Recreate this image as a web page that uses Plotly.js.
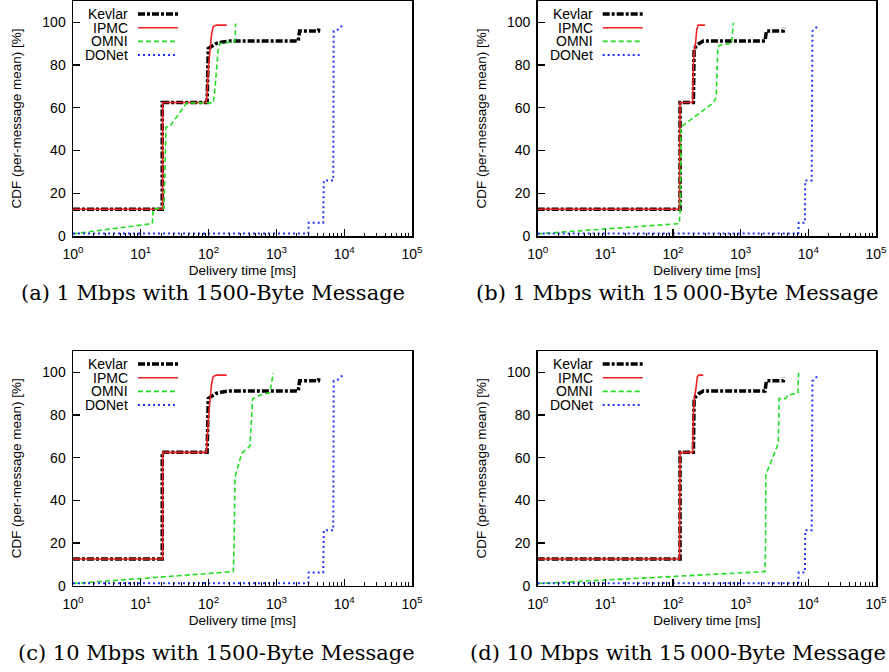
<!DOCTYPE html>
<html>
<head>
<meta charset="utf-8">
<script src="https://cdn.plot.ly/plotly-3.0.1.min.js"></script>
<style>html,body{margin:0;padding:0;background:#fff;}#chart{width:889px;height:672px;}</style>
</head>
<body>
<div id="chart"></div>
<script>
// ---------------- data ----------------
const seriesNames = ['Kevlar', 'IPMC', 'OMNI', 'DONet'];
const captions = [
  '(a) 1 Mbps with 1500-Byte Message',
  '(b) 1 Mbps with 15\u2009000-Byte Message',
  '(c) 10 Mbps with 1500-Byte Message',
  '(d) 10 Mbps with 15\u2009000-Byte Message'
];
const xTickVals = [1, 10, 100, 1000, 10000, 100000];
const xTickText = ['10<sup>0</sup>', '10<sup>1</sup>', '10<sup>2</sup>', '10<sup>3</sup>', '10<sup>4</sup>', '10<sup>5</sup>'];
const yTickVals = [0, 20, 40, 60, 80, 100];

// (a) 1 Mbps, 1500 B
const aKevlarX = [1, 20.7, 20.7, 95, 99, 110, 131, 160, 207, 2100, 2150, 2200, 4170, 4250];
const aKevlarY = [12.5, 12.5, 62.5, 62.5, 87.8, 88.8, 90.2, 90.8, 91.3, 91.3, 94, 96, 96, 97.5];
const aIpmcX = [1, 21, 21, 93, 100, 105, 111, 117, 131, 185];
const aIpmcY = [12.5, 12.5, 62.5, 62.5, 80, 87.8, 94.8, 98, 98.7, 98.7];
const aOmniX = [1, 14.8, 15.3, 22, 23.5, 26.4, 47.5, 117, 125, 131, 139, 147, 245, 250];
const aOmniY = [1, 5.8, 12.8, 13, 51, 51, 62.3, 62.3, 70, 79, 87.8, 90.1, 91, 99.5];
const aDonetX = [1, 2960, 3000, 4900, 5000, 6900, 7000, 8000, 9700];
const aDonetY = [1.2, 1.2, 6.2, 6.2, 26, 26, 96, 96.5, 99];

// (b) 1 Mbps, 15000 B
const bKevlarX = [1, 127, 127, 200, 205, 215, 240, 280, 2290, 2350, 2400, 4270, 4350];
const bKevlarY = [12.5, 12.5, 62.5, 62.5, 87.5, 88.5, 90, 91.3, 91.3, 94, 96, 96, 97.5];
const bIpmcX = [1, 125, 127, 195, 200, 207, 215, 224, 235, 298];
const bIpmcY = [12.5, 12.5, 62.5, 62.5, 80, 87.5, 90, 96.4, 98.7, 98.7];
const bOmniX = [1, 124, 128, 131, 394, 435, 460, 500, 735, 780];
const bOmniY = [1, 5.8, 12.8, 51, 62.3, 65, 88.6, 89.4, 90.2, 99.8];
const bDonetX = [1, 7100, 7200, 8900, 9000, 11200, 11500, 12700, 14000];
const bDonetY = [1.2, 1.2, 6.2, 6.2, 26, 26, 96, 97, 99];

// (c) 10 Mbps, 1500 B
const cKevlarX = [1, 20.7, 20.7, 95, 99, 110, 131, 160, 207, 2100, 2150, 2200, 4170, 4250];
const cKevlarY = [12.5, 12.5, 62.5, 62.5, 87.8, 88.8, 90.2, 90.8, 91.3, 91.3, 94, 96, 96, 97.5];
const cIpmcX = [1, 21, 21, 93, 100, 105, 111, 117, 131, 185];
const cIpmcY = [12.5, 12.5, 62.5, 62.5, 80, 87.8, 94.8, 98, 98.7, 98.7];
const cOmniX = [1, 232, 238, 245, 308, 408, 446, 575, 804, 900];
const cOmniY = [1, 6.6, 20, 51, 62, 65.5, 87.5, 89.4, 90.5, 99.8];
const cDonetX = [1, 2960, 3000, 4900, 5000, 6900, 7000, 8000, 9700];
const cDonetY = [1.2, 1.2, 6.2, 6.2, 26, 26, 96, 96.5, 99];

// (d) 10 Mbps, 15000 B
const dKevlarX = [1, 127, 127, 200, 205, 215, 240, 280, 2290, 2350, 2400, 4270, 4350];
const dKevlarY = [12.5, 12.5, 62.5, 62.5, 87.5, 88.5, 90, 91.3, 91.3, 94, 96, 96, 97.5];
const dIpmcX = [1, 125, 127, 195, 200, 207, 215, 229, 240, 280];
const dIpmcY = [12.5, 12.5, 62.5, 62.5, 80, 88.6, 91, 98, 98.7, 98.7];
const dOmniX = [1, 2290, 2330, 2350, 3600, 3700, 4600, 5000, 7000, 7150];
const dOmniY = [1, 6.6, 20, 51.9, 66.7, 87.7, 87.7, 89.4, 90.2, 99.8];
const dDonetX = [1, 7100, 7200, 8900, 9000, 11200, 11500, 12700, 14000];
const dDonetY = [1.2, 1.2, 6.2, 6.2, 26, 26, 96, 97, 99];

const panels = [
  [[aKevlarX, aKevlarY], [aIpmcX, aIpmcY], [aOmniX, aOmniY], [aDonetX, aDonetY]],
  [[bKevlarX, bKevlarY], [bIpmcX, bIpmcY], [bOmniX, bOmniY], [bDonetX, bDonetY]],
  [[cKevlarX, cKevlarY], [cIpmcX, cIpmcY], [cOmniX, cOmniY], [cDonetX, cDonetY]],
  [[dKevlarX, dKevlarY], [dIpmcX, dIpmcY], [dOmniX, dOmniY], [dDonetX, dDonetY]]
];

// ---------------- styles / layout ----------------
const W = 889, H = 672;
const lineStyles = [
  {color: '#000000', width: 3.5, dash: '7px,2px,3px,2px'},
  {color: '#ee2222', width: 1.6, dash: 'solid'},
  {color: '#22dd22', width: 1.6, dash: '5px,3px'},
  {color: '#2233ff', width: 2, dash: '2px,3px'}
];
// plot-area boxes in pixels [left, top, right, bottom]
const boxes = [
  [73, 1, 412, 236],
  [537.7, 1, 876, 236],
  [73, 351, 412, 585.7],
  [537.7, 351, 876, 585.7]
];
const captionCenters = [[213, 293], [677, 293], [216, 653], [678, 653]];

const px = x => x / W;
const py = y => 1 - y / H;
const sansFont = 'Liberation Sans, Arial, sans-serif';

const traces = [];
const layout = {
  width: W, height: H,
  margin: {l: 0, r: 0, t: 0, b: 0},
  paper_bgcolor: '#ffffff', plot_bgcolor: '#ffffff',
  showlegend: false,
  font: {family: sansFont, size: 13, color: '#000'},
  annotations: [], shapes: []
};

panels.forEach((series, i) => {
  const n = i + 1;
  const xa = n === 1 ? 'x' : 'x' + n;
  const ya = n === 1 ? 'y' : 'y' + n;
  series.forEach((s, j) => {
    traces.push({
      type: 'scatter', mode: 'lines', x: s[0], y: s[1],
      xaxis: xa, yaxis: ya, name: seriesNames[j],
      line: Object.assign({}, lineStyles[j]), hoverinfo: 'skip'
    });
  });
  const b = boxes[i];
  layout['xaxis' + (n === 1 ? '' : n)] = {
    type: 'log', range: [0, 5], domain: [px(b[0]), px(b[2])], anchor: ya,
    tickmode: 'array', tickvals: xTickVals, ticktext: xTickText,
    ticks: 'inside', ticklen: 7, tickwidth: 1.2, tickcolor: '#000',
    ticklabelstandoff: 5,
    minor: {ticks: 'inside', ticklen: 3.5, dtick: 'D1', tickcolor: '#000', tickwidth: 1, showgrid: false},
    showline: true, linecolor: '#000', linewidth: 1.5, mirror: true,
    showgrid: false, zeroline: false,
    tickfont: {family: sansFont, size: 14, color: '#000'},
    title: {text: 'Delivery time [ms]', font: {family: sansFont, size: 13.5, color: '#000'}, standoff: 4}
  };
  layout['yaxis' + (n === 1 ? '' : n)] = {
    range: [0, 110], domain: [py(b[3]), py(b[1])], anchor: xa,
    tickmode: 'array', tickvals: yTickVals,
    ticks: 'inside', ticklen: 7, tickwidth: 1.2, tickcolor: '#000',
    ticklabelstandoff: 3,
    showline: true, linecolor: '#000', linewidth: 1.5, mirror: true,
    showgrid: false, zeroline: false,
    tickfont: {family: sansFont, size: 14, color: '#000'},
    title: {text: 'CDF (per-message mean) [%]', font: {family: sansFont, size: 13.5, color: '#000'}, standoff: 17}
  };
  // legend (text right-aligned, sample to the right, as in gnuplot)
  seriesNames.forEach((name, j) => {
    const rowY = b[1] + 13 + j * 13.7;
    layout.annotations.push({
      xref: 'paper', yref: 'paper', x: px(b[0] + 57), y: py(rowY),
      xanchor: 'right', yanchor: 'middle', showarrow: false,
      text: name, font: {family: sansFont, size: 14, color: '#000'}
    });
    layout.shapes.push({
      type: 'line', xref: 'paper', yref: 'paper',
      x0: px(b[0] + 65), x1: px(b[0] + 105), y0: py(rowY), y1: py(rowY),
      line: Object.assign({}, lineStyles[j])
    });
  });
  // caption
  layout.annotations.push({
    xref: 'paper', yref: 'paper', x: px(captionCenters[i][0]), y: py(captionCenters[i][1]),
    xanchor: 'center', yanchor: 'middle', showarrow: false,
    text: captions[i], font: {family: 'DejaVu Serif, Liberation Serif, serif', size: 21, color: '#000'}
  });
});

Plotly.newPlot('chart', traces, layout, {staticPlot: true, displayModeBar: false});
</script>
</body>
</html>
